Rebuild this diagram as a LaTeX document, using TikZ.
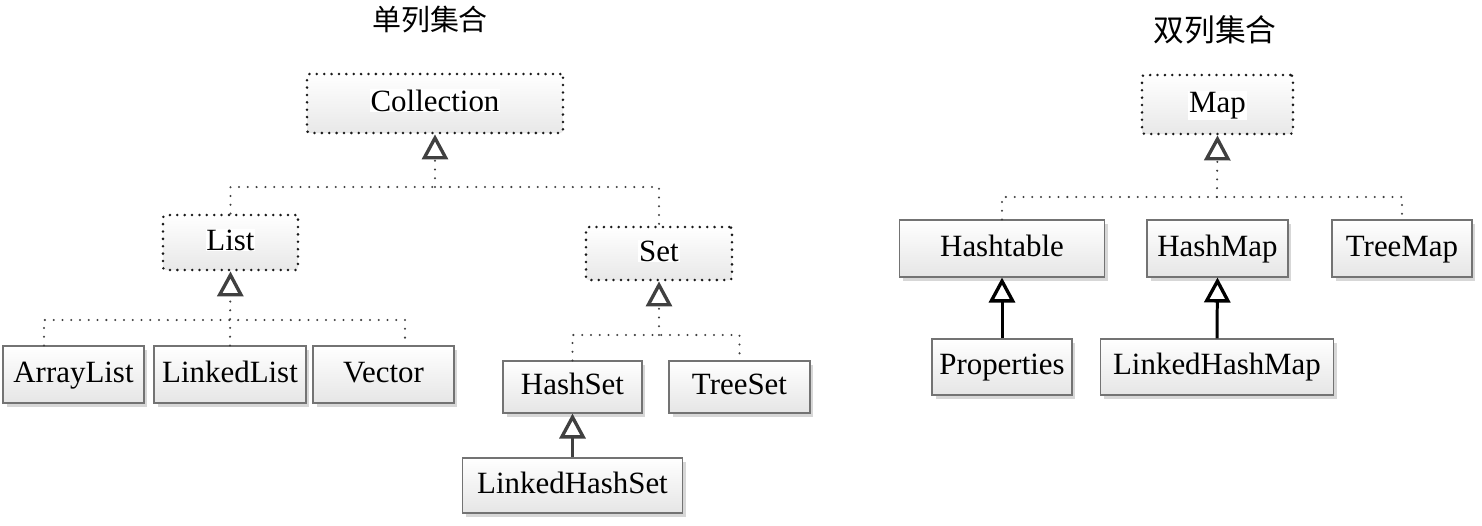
\documentclass[tikz,border=0pt]{standalone}
\usepackage{fontspec}
\setmainfont{Liberation Serif}
\newfontfamily\cjk{Noto Sans CJK SC}
\usetikzlibrary{arrows.meta,shadows}
\setlength{\fboxsep}{0.5pt}

\tikzset{
  cls/.style={draw=black!55, line width=0.6pt, top color=white, bottom color=black!10,
    minimum height=1.14cm, inner sep=0pt, text height=12.4pt, text depth=3.6pt,
    drop shadow={shadow xshift=0.07cm, shadow yshift=-0.07cm, fill=black!35, opacity=0.45}},
  iface/.style={draw=black!90, line width=1.6pt, line cap=round, dash pattern=on 0pt off 4.2pt,
    rounded corners=1.5pt, top color=white, bottom color=black!9,
    minimum height=1.18cm, inner sep=0pt, text height=12.9pt, text depth=4.1pt},
  realize/.style={black!75, line width=1.3pt, line cap=round, dash pattern=on 0pt off 5pt},
  extend/.style={line width=1.7pt},
  hollow/.tip={Triangle[open, length=0.5cm, width=0.52cm, line width=1.9pt]},
  bigtext/.style={font=\fontsize{17.6pt}{20pt}\selectfont},
}

\begin{document}
\begin{tikzpicture}[x=0.02cm, y=-0.02cm]
    \useasboundingbox (0,0) rectangle (1482,525);

    % titles
    \node[font=\cjk\fontsize{16.5pt}{18pt}\selectfont] (single) at (430,20) {单列集合};
    \node[font=\cjk\fontsize{17.5pt}{19pt}\selectfont] (double) at (1215,30) {双列集合};

    % single-column collections
    \begin{scope}[bigtext]
        \node[iface, minimum width=5.12cm] (collection) at (435,103.5) {\colorbox{white}{Collection}};
        \node[iface, minimum width=2.7cm, minimum height=1.1cm] (list) at (230.5,242.5) {\colorbox{white}{List}};
        \node[iface, minimum width=2.92cm, minimum height=1.06cm] (set) at (659,253.5) {\colorbox{white}{Set}};

        \node[cls, minimum width=2.82cm] (arraylist) at (73.5,374.5) {ArrayList};
        \node[cls, minimum width=3.04cm] (linkedlist) at (230,374.5) {LinkedList};
        \node[cls, minimum width=2.82cm] (vector) at (383.5,374.5) {Vector};

        \node[cls, minimum width=2.78cm, minimum height=1.04cm] (hashset) at (572.5,387) {HashSet};
        \node[cls, minimum width=2.82cm, minimum height=1.04cm] (treeset) at (739.5,387) {TreeSet};
        \node[cls, minimum width=4.4cm, minimum height=1.1cm] (linkedhashset) at (572.5,485.5) {LinkedHashSet};
    \end{scope}

    \coordinate (cbus) at (435,187);
    \coordinate (lbus) at (230,320);
    \coordinate (sbus) at (659,335);

    \draw[realize, -hollow] (cbus) -- (collection.south);
    \draw[realize] (list.north) |- (cbus) -| (set.north);

    \draw[realize, -hollow] (linkedlist.north) -- (list.south);
    \draw[realize] (arraylist.north -| 44,0) |- (lbus) -| (vector.north -| 405,0);

    \draw[realize, -hollow] (sbus) -- (set.south);
    \draw[realize] (hashset.north) |- (sbus) -| (treeset.north);

    \draw[extend, black!75, -hollow] (linkedhashset.north) -- (hashset.south);

    % double-column collections
    \begin{scope}[bigtext]
        \node[iface, minimum width=3.02cm] (map) at (1217.5,104.5) {\colorbox{white}{Map}};

        \node[cls, minimum width=4.1cm] (hashtable) at (1002,248.5) {Hashtable};
        \node[cls, minimum width=2.82cm] (hashmap) at (1217.5,248.5) {HashMap};
        \node[cls, minimum width=2.8cm] (treemap) at (1402,248.5) {TreeMap};

        \node[cls, minimum width=2.8cm, minimum height=1.12cm] (properties) at (1002,367) {Properties};
        \node[cls, minimum width=4.66cm, minimum height=1.12cm] (linkedhashmap) at (1217,367) {LinkedHashMap};
    \end{scope}

    \coordinate (mbus) at (1217,197);

    \draw[realize, -hollow] (mbus) -- (map.south);
    \draw[realize] (hashtable.north) |- (mbus) -| (treemap.north);

    \draw[extend, -hollow] (properties.north) -- (hashtable.south);
    \draw[extend, -hollow] (linkedhashmap.north) -- (hashmap.south);
\end{tikzpicture}
\end{document}
